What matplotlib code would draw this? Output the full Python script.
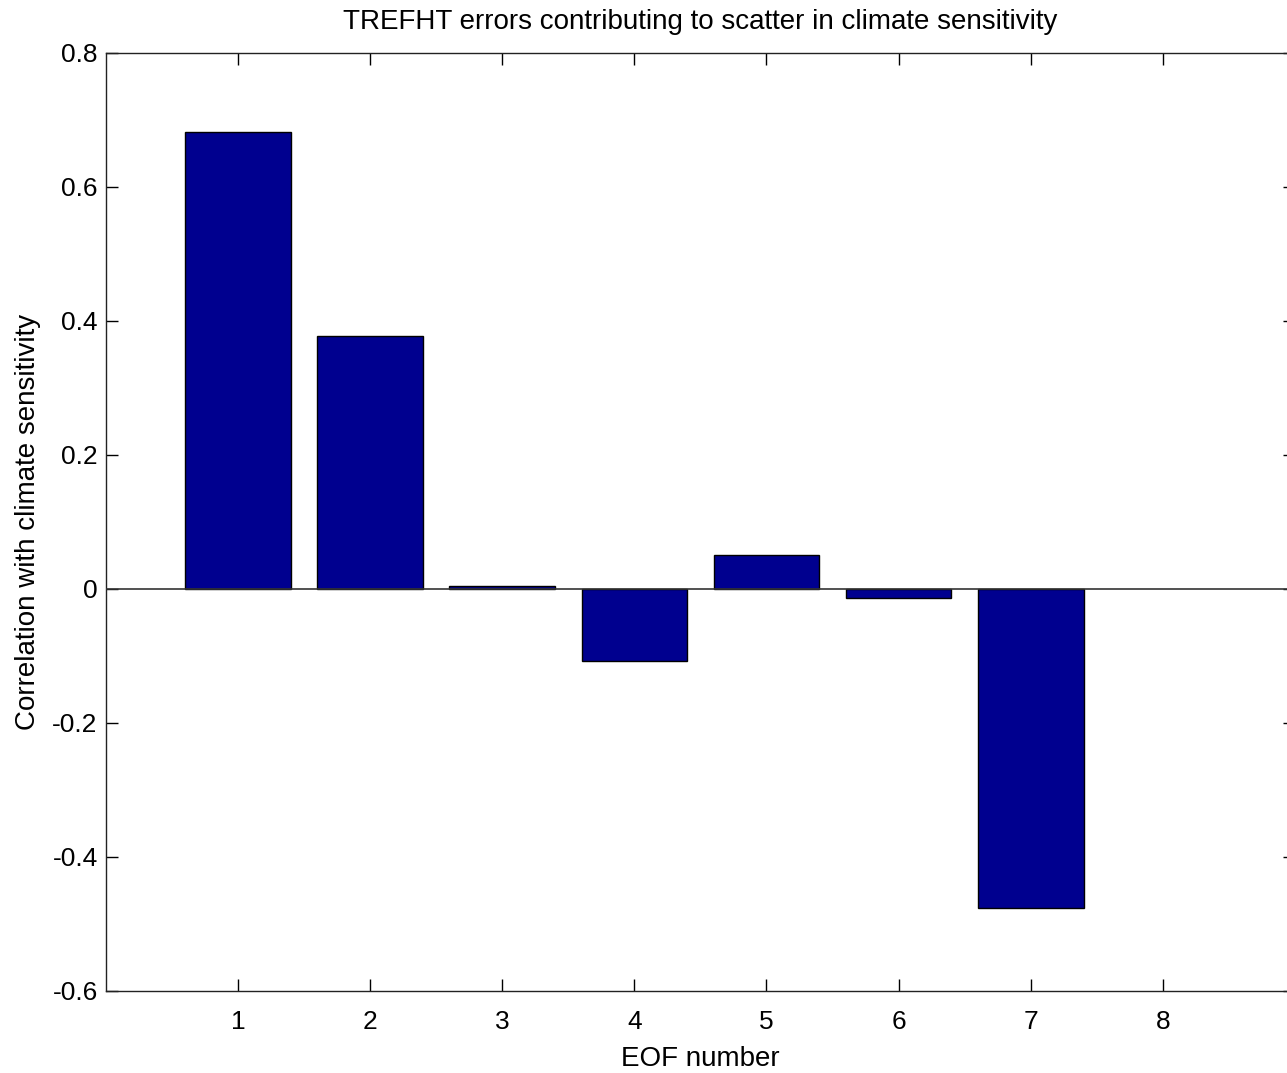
import matplotlib
matplotlib.use("Agg")
import matplotlib.pyplot as plt

eof = [1, 2, 3, 4, 5, 6, 7]
corr = [0.682, 0.377, 0.004, -0.108, 0.050, -0.014, -0.476]
xticks = [1, 2, 3, 4, 5, 6, 7, 8]
yticks = [-0.6, -0.4, -0.2, 0, 0.2, 0.4, 0.6, 0.8]
ytick_labels = ["-0.6", "-0.4", "-0.2", "0", "0.2", "0.4", "0.6", "0.8"]

plt.rcParams['font.family'] = ['Liberation Sans', 'DejaVu Sans']

W, H = 1287, 1073
fig = plt.figure(figsize=(W / 100, H / 100), dpi=100)
left = 106 / W
bottom = (H - 991) / H
top = (H - 52.5) / H
width = (9 * 132.1) / W
ax = fig.add_axes([left, bottom, width, top - bottom])

ax.bar(eof, corr, width=0.8, color='#00008F', edgecolor='black', linewidth=1, zorder=2)
ax.axhline(0, color='#333333', lw=1.2, zorder=3)

ax.set_xlim(0, 9)
ax.set_ylim(-0.6, 0.8)
ax.set_xticks(xticks)
ax.set_yticks(yticks)
ax.set_yticklabels(ytick_labels)

FS = 19
LFS = 20
ax.tick_params(direction='in', length=8.6, width=1, top=True, right=True,
               labelsize=FS, colors='black')
ax.tick_params(axis='x', pad=14)
ax.tick_params(axis='y', pad=6)
for s in ax.spines.values():
    s.set_linewidth(1)
    s.set_color('#222222')

ax.set_title("TREFHT errors contributing to scatter in climate sensitivity", fontsize=LFS, pad=17)
ax.set_xlabel("EOF number", fontsize=LFS, labelpad=8)
ax.set_ylabel("Correlation with climate sensitivity", fontsize=LFS, labelpad=8)

fig.savefig("out.png", dpi=100)
